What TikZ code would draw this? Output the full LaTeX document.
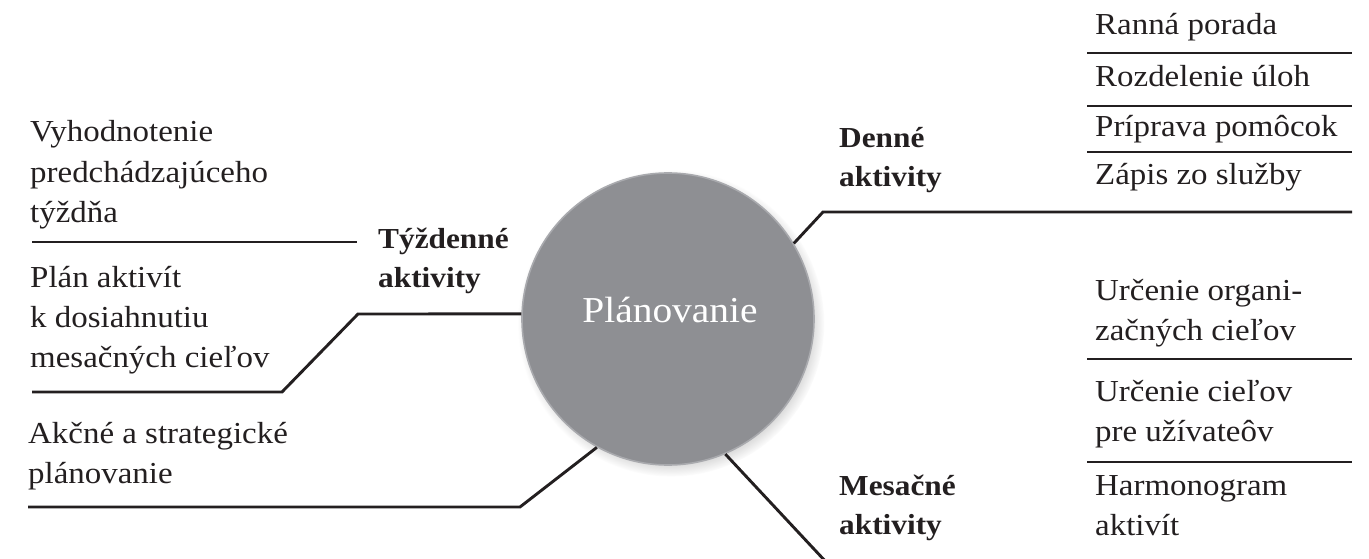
\documentclass[tikz,border=0pt]{standalone}
\usepackage{fontspec}
\setmainfont{Liberation Serif}[FakeStretch=1.08]
\usetikzlibrary{shadows}
\definecolor{ink}{HTML}{231F20}
\definecolor{disc}{HTML}{8E8F93}
\definecolor{rim}{HTML}{A9AAAE}
\newcommand{\lines}[1]{\begin{tabular}[t]{@{}l@{}}#1\end{tabular}}
\tikzset{
  lbl/.style={inner sep=0pt, anchor=base west, text=ink, font=\fontsize{30.5}{40.5}\selectfont},
  hd/.style={inner sep=0pt, anchor=base west, text=ink, font=\fontsize{29}{39}\selectfont\bfseries},
  conn/.style={draw=ink, line width=2.9pt, line join=miter},
  sep/.style={draw=ink, line width=2.9pt},
}
\begin{document}
\begin{tikzpicture}[x=1pt,y=-1pt]
\path[use as bounding box] (0,0) rectangle (1369,559);
\clip (0,0) rectangle (1369,559);
% named free ends
\coordinate (w1) at (358,314);
\coordinate (w2) at (282,392);
\coordinate (w3) at (32,392);
\coordinate (a1) at (520,507);
\coordinate (a2) at (28,507);
\coordinate (d1) at (823,212);
\coordinate (d2) at (1352,212);
\coordinate (m1) at (827,563);
% centre disc
\node[circle, fill=disc, draw=rim, line width=1.6pt, minimum size=292pt, inner sep=0pt,
  circular drop shadow={shadow scale=1.05, shadow xshift=3pt, shadow yshift=-4pt, opacity=0.5}] (c) at (668,319) {};
\node[anchor=base, inner sep=0pt, text=white, font=\fontsize{36.5}{40}\selectfont] (t) at (670,322) {Plánovanie};
% connectors
\draw[conn] (c.178) -- (w1) -- (w2) -- (w3);
\draw[conn] (c.241) -- (a1) -- (a2);
\draw[conn] (c.31.5) -- (d1) -- (d2);
\draw[conn] (c.293) -- (m1);
% separators
\draw[sep] (32,242) -- (357,242);
\draw[sep] (1087,53) -- (1352,53);
\draw[sep] (1087,106) -- (1352,106);
\draw[sep] (1087,152) -- (1352,152);
\draw[sep] (1087,359) -- (1352,359);
\draw[sep] (1087,462) -- (1352,462);
% headings
\node[hd] (hw) at (378,248) {\lines{Týždenné\\aktivity}};
\node[hd] (hd) at (839,148) {\lines{Denné\\aktivity}};
\node[hd] (hm) at (839,495) {\lines{Mesačné\\aktivity}};
% weekly items
\node[lbl] (w-a) at (30,142) {\lines{Vyhodnotenie\\predchádzajúceho\\týždňa}};
\node[lbl] (w-b) at (30,287) {\lines{Plán aktivít\\k dosiahnutiu\\mesačných cieľov}};
\node[lbl] (w-c) at (28,443) {\lines{Akčné a strategické\\plánovanie}};
% daily items
\node[lbl] (d-a) at (1095,35) {Ranná porada};
\node[lbl] (d-b) at (1095,87) {Rozdelenie úloh};
\node[lbl] (d-c) at (1095,137) {Príprava pomôcok};
\node[lbl] (d-d) at (1095,185) {Zápis zo služby};
% monthly items
\node[lbl] (m-a) at (1095,300) {\lines{Určenie organi-\\začných cieľov}};
\node[lbl] (m-b) at (1095,401) {\lines{Určenie cieľov\\pre užívateôv}};
\node[lbl] (m-c) at (1095,495) {\lines{Harmonogram\\aktivít}};
\end{tikzpicture}
\end{document}
